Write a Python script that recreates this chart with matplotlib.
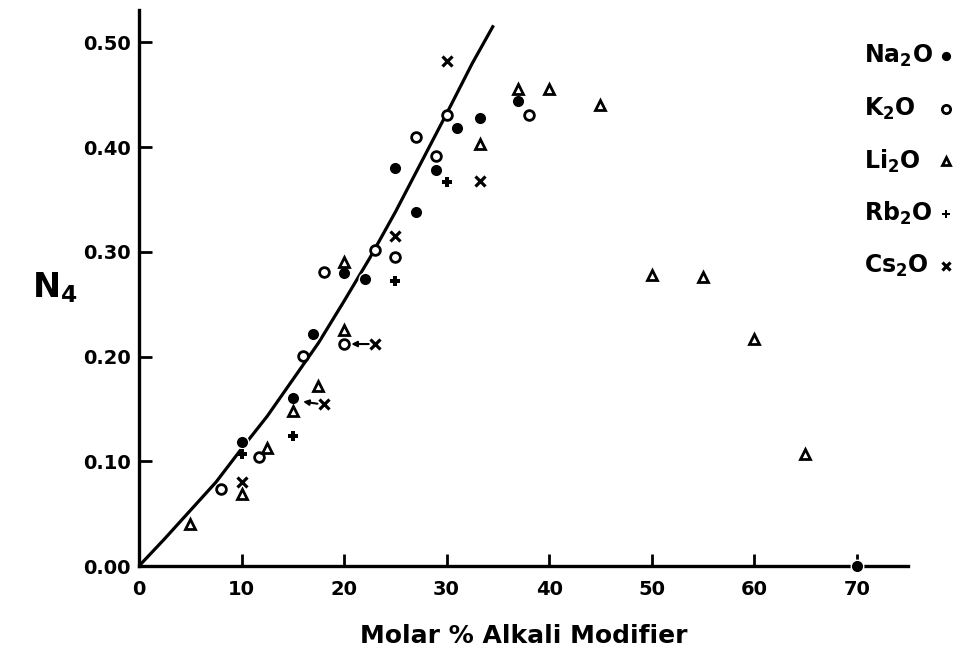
import matplotlib.pyplot as plt
from matplotlib.lines import Line2D

# N4 vs molar % alkali modifier, borate glasses
na_x = [10, 15, 17, 20, 22, 25, 27, 29, 31, 33.3, 37, 70]
na_y = [0.118, 0.160, 0.222, 0.280, 0.274, 0.380, 0.338, 0.378, 0.418, 0.428, 0.444, 0.0]

k_x = [8, 11.7, 16, 18, 20, 23, 25, 27, 29, 30, 38]
k_y = [0.074, 0.104, 0.201, 0.281, 0.212, 0.302, 0.295, 0.410, 0.392, 0.431, 0.431]

li_x = [5, 10, 12.5, 15, 17.5, 20, 20, 33.3, 37, 40, 45, 50, 55, 60, 65]
li_y = [0.040, 0.069, 0.113, 0.148, 0.172, 0.225, 0.290, 0.403, 0.456, 0.456, 0.440,
        0.278, 0.276, 0.217, 0.107]

rb_x = [10, 15, 25, 30]
rb_y = [0.107, 0.124, 0.272, 0.367]

cs_x = [10, 18, 23, 25, 30, 33.3]
cs_y = [0.080, 0.155, 0.212, 0.315, 0.482, 0.368]

# drawn curve
curve_x = [0, 2.5, 5, 7.5, 10, 12.5, 15, 17.5, 20, 22.5, 25, 27.5, 30, 32.5, 34.5]
curve_y = [0, 0.026, 0.053, 0.080, 0.112, 0.143, 0.178, 0.213, 0.253, 0.294,
           0.338, 0.385, 0.432, 0.480, 0.515]

xticks = [0, 10, 20, 30, 40, 50, 60, 70]
yticks = [0.0, 0.1, 0.2, 0.3, 0.4, 0.5]

names = [r'$\mathbf{Na_2O}$', r'$\mathbf{K_2O}$', r'$\mathbf{Li_2O}$',
         r'$\mathbf{Rb_2O}$', r'$\mathbf{Cs_2O}$']

styles = [
    dict(marker='o', markersize=9, markerfacecolor='black', markeredgecolor='white', markeredgewidth=1.0),
    dict(marker='o', markersize=7, markerfacecolor='white', markeredgewidth=2.0),
    dict(marker='^', markersize=7, markerfacecolor='white', markeredgewidth=2.0),
    dict(marker='P', markersize=7, markerfacecolor='black', markeredgewidth=0),
    dict(marker='x', markersize=6.5, markeredgewidth=2.3),
]

fig = plt.figure(figsize=(9.56, 6.58), dpi=100)
ax = fig.add_axes([0.1454, 0.1398, 0.8044, 0.845])

ax.plot(curve_x, curve_y, color='black', lw=2.3, zorder=1)

series = [(na_x, na_y), (k_x, k_y), (li_x, li_y), (rb_x, rb_y), (cs_x, cs_y)]
for (xs, ys), st in zip(series, styles):
    ax.plot(xs, ys, linestyle='none', color='black', zorder=3, clip_on=False, **st)

# arrows from Cs points back to the shifted compositions
for (x0, y0), (x1, y1) in [((18, 0.155), (16.0, 0.157)), ((23, 0.212), (20.7, 0.212))]:
    ax.annotate('', xy=(x1, y1), xytext=(x0 - 0.6, y0),
                arrowprops=dict(arrowstyle='-|>', color='black', lw=1.5,
                                mutation_scale=8, shrinkA=0, shrinkB=0))

ax.set_xlim(0, 75)
ax.set_ylim(0, 0.531)
ax.set_xticks(xticks)
ax.set_xticklabels([str(t) for t in xticks])
ax.set_yticks(yticks)
ax.set_yticklabels(['%.2f' % t for t in yticks])

for s in ['top', 'right']:
    ax.spines[s].set_visible(False)
for s in ['left', 'bottom']:
    ax.spines[s].set_linewidth(2.4)

ax.tick_params(direction='in', length=9, width=2, labelsize=14)
ax.tick_params(axis='x', pad=10)
ax.tick_params(axis='y', pad=6)
for lab in ax.get_xticklabels() + ax.get_yticklabels():
    lab.set_fontweight('bold')

ax.set_xlabel('Molar % Alkali Modifier', fontsize=18, fontweight='bold', labelpad=18)
ax.set_ylabel(r'$\mathbf{N_4}$', fontsize=24, rotation=0, va='center')
ax.yaxis.set_label_coords(-0.11, 0.50)

# key in the top right corner: name, then its symbol
for i, (name, st) in enumerate(zip(names, styles)):
    yf = 1 - (56 + 52.5 * i) / 658
    fig.text(864 / 956, yf, name, fontsize=17, ha='left', va='center')
    st = dict(st)
    st['markersize'] = st['markersize'] * 0.85
    fig.add_artist(Line2D([946 / 956], [yf], color='black', linestyle='none',
                          transform=fig.transFigure, **st))

fig.savefig('out.png', dpi=100, facecolor='white')
